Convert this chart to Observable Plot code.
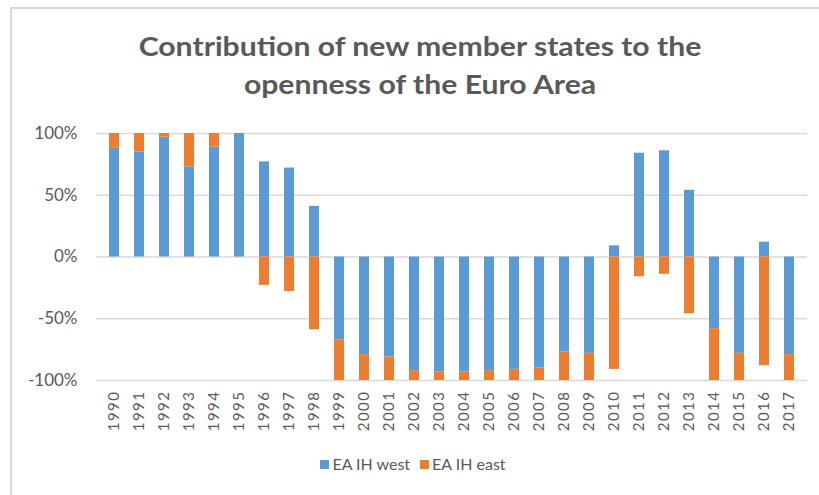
<!DOCTYPE html>
<html>
<head>
<meta charset="utf-8">
<script src="https://cdn.jsdelivr.net/npm/d3@7"></script>
<script src="https://cdn.jsdelivr.net/npm/@observablehq/plot@0.6"></script>
<style>
  body { margin: 0; background: #fff; }
  #wrap { position: relative; width: 819px; height: 495px; overflow: hidden; font-family: Lato, "Open Sans", sans-serif; }
  #frame { position: absolute; left: 10px; top: 7px; width: 900px; height: 600px; border: 2px solid #d9d9d9; box-sizing: border-box; pointer-events: none; }
  #title { position: absolute; left: 0; width: 840px; top: 27px; text-align: center; font-weight: bold; font-size: 26px; line-height: 38px; color: #595959; transform: scaleX(1.16); transform-origin: 420px 0; }
  #legend { position: absolute; top: 454px; left: 0; width: 826px; text-align: center; font-size: 16px; color: #595959; }
  #legend span.item { margin: 0 5px; }
  #legend span.sw { display: inline-block; width: 9px; height: 9px; margin-right: 3px; vertical-align: 1px; }
  #chart { position: absolute; left: 0; top: 0; }
  #chart svg g[aria-label="x-axis tick label"] text { letter-spacing: 1.5px; }
</style>
</head>
<body>
<div id="wrap">
  <div id="chart"></div>
  <div id="title">Contribution of new member states to the<br>openness of the Euro Area</div>
  <div id="legend"></div>
  <div id="frame"></div>
</div>
<script>
const years = ["1990","1991","1992","1993","1994","1995","1996","1997","1998","1999","2000","2001","2002","2003","2004","2005","2006","2007","2008","2009","2010","2011","2012","2013","2014","2015","2016","2017"];
const westValues = [0.88,0.85,0.97,0.73,0.89,1.00,0.77,0.72,0.41,-0.67,-0.79,-0.81,-0.92,-0.93,-0.93,-0.92,-0.91,-0.90,-0.77,-0.78,0.09,0.84,0.86,0.54,-0.58,-0.78,0.12,-0.79];
const eastValues = [0.12,0.15,0.03,0.27,0.11,0.00,-0.23,-0.28,-0.59,-0.33,-0.21,-0.19,-0.08,-0.07,-0.07,-0.08,-0.09,-0.10,-0.23,-0.22,-0.91,-0.16,-0.14,-0.46,-0.42,-0.22,-0.88,-0.21];
const seriesNames = ["EA IH west", "EA IH east"];
const seriesColors = ["#5B9BD5", "#ED7D31"];
const yTicks = [-1, -0.5, 0, 0.5, 1];

const data = [];
years.forEach((y, i) => {
  data.push({year: y, series: seriesNames[0], value: westValues[i]});
  data.push({year: y, series: seriesNames[1], value: eastValues[i]});
});

const chart = Plot.plot({
  width: 819,
  height: 495,
  marginTop: 133,
  marginBottom: 115,
  marginLeft: 96,
  marginRight: 12,
  style: {fontFamily: "Lato, 'Open Sans', sans-serif", fontSize: "17px", color: "#595959", background: "transparent"},
  x: {domain: years, paddingInner: 0.6, paddingOuter: 0.3, label: null, axis: null},
  y: {domain: [-1, 1], ticks: yTicks, tickFormat: d => Math.round(d * 100) + "%", label: null, tickSize: 0, tickPadding: 19},
  color: {domain: seriesNames, range: seriesColors},
  marks: [
    Plot.ruleY(yTicks, {stroke: "#d9d9d9", strokeWidth: 1.5}),
    Plot.barY(data, {x: "year", y: "value", fill: "series", order: seriesNames}),
    Plot.axisX({tickSize: 0, tickRotate: -90, tickPadding: 10, fontSize: 15, label: null})
  ]
});
document.getElementById("chart").appendChild(chart);

const legend = document.getElementById("legend");
seriesNames.forEach((n, i) => {
  const item = document.createElement("span");
  item.className = "item";
  const sw = document.createElement("span");
  sw.className = "sw";
  sw.style.background = seriesColors[i];
  item.appendChild(sw);
  item.appendChild(document.createTextNode(n));
  legend.appendChild(item);
});
</script>
</body>
</html>
